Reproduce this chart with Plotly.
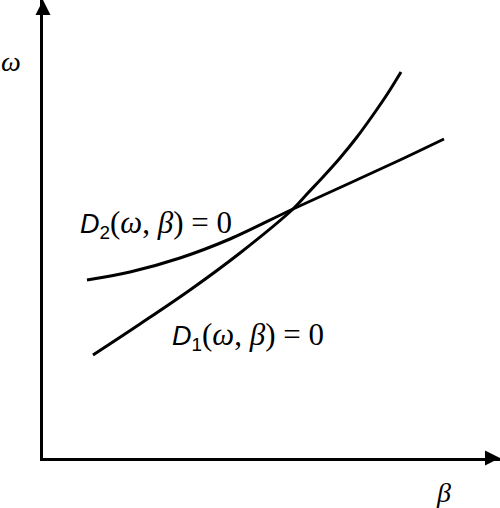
import plotly.graph_objects as go

# curve points (beta across, omega up)
beta_d1 = [50, 97, 147, 197, 250, 264, 280, 297, 314, 330, 345, 358]
omega_d1 = [103, 134, 168, 205, 249, 264, 281, 300, 321, 343, 365, 386]

beta_d2 = [44, 87, 137, 187, 250, 307, 357, 401]
omega_d2 = [178, 186, 200, 219, 249, 275, 298, 319]

x_max = 457
y_max = 458

serif = "Liberation Serif"
sans = "Liberation Sans"


def eq_text(sub):
    return (
        f"<span style='font-family:{sans};font-size:27px'><i>D</i><sub>{sub}</sub></span>"
        f"(<i>ω</i>, <i>β</i>) = 0"
    )


fig = go.Figure()

for bx, oy in [(beta_d1, omega_d1), (beta_d2, omega_d2)]:
    fig.add_trace(go.Scatter(
        x=bx, y=oy,
        mode="lines",
        line=dict(color="black", width=3, shape="spline", smoothing=1.0),
        hoverinfo="skip",
    ))

# arrow heads on the ends of the axes
fig.add_trace(go.Scatter(
    x=[0], y=[y_max], mode="markers", cliponaxis=False,
    marker=dict(symbol="arrow-up", size=15, color="black", line=dict(width=0)),
    hoverinfo="skip",
))
fig.add_trace(go.Scatter(
    x=[x_max], y=[0], mode="markers", cliponaxis=False,
    marker=dict(symbol="arrow-right", size=15, color="black", line=dict(width=0)),
    hoverinfo="skip",
))

fig.add_annotation(x=35, y=234, xref="x", yref="y", text=eq_text(2),
                   showarrow=False, xanchor="left", yanchor="middle",
                   font=dict(family=serif, size=31, color="black"))
fig.add_annotation(x=127, y=122, xref="x", yref="y", text=eq_text(1),
                   showarrow=False, xanchor="left", yanchor="middle",
                   font=dict(family=serif, size=31, color="black"))

# axis names
fig.add_annotation(x=-0.07, y=0.865, xref="paper", yref="paper", text="<i>ω</i>",
                   showarrow=False, xanchor="center", yanchor="middle",
                   font=dict(family=serif, size=28, color="black"))
fig.add_annotation(x=0.877, y=-0.076, xref="paper", yref="paper", text="<i>β</i>",
                   showarrow=False, xanchor="center", yanchor="middle",
                   font=dict(family=serif, size=28, color="black"))

axis_style = dict(showgrid=False, zeroline=False, showticklabels=False, ticks="",
                  showline=True, linecolor="black", linewidth=3)

fig.update_layout(
    width=500, height=508,
    margin=dict(l=43, r=0, t=0, b=50),
    paper_bgcolor="white", plot_bgcolor="white",
    showlegend=False,
    xaxis=dict(range=[0, x_max], **axis_style),
    yaxis=dict(range=[0, y_max], **axis_style),
)

fig.write_html("out.html", config={"displayModeBar": False},
               post_script="document.body.style.margin='0';")
